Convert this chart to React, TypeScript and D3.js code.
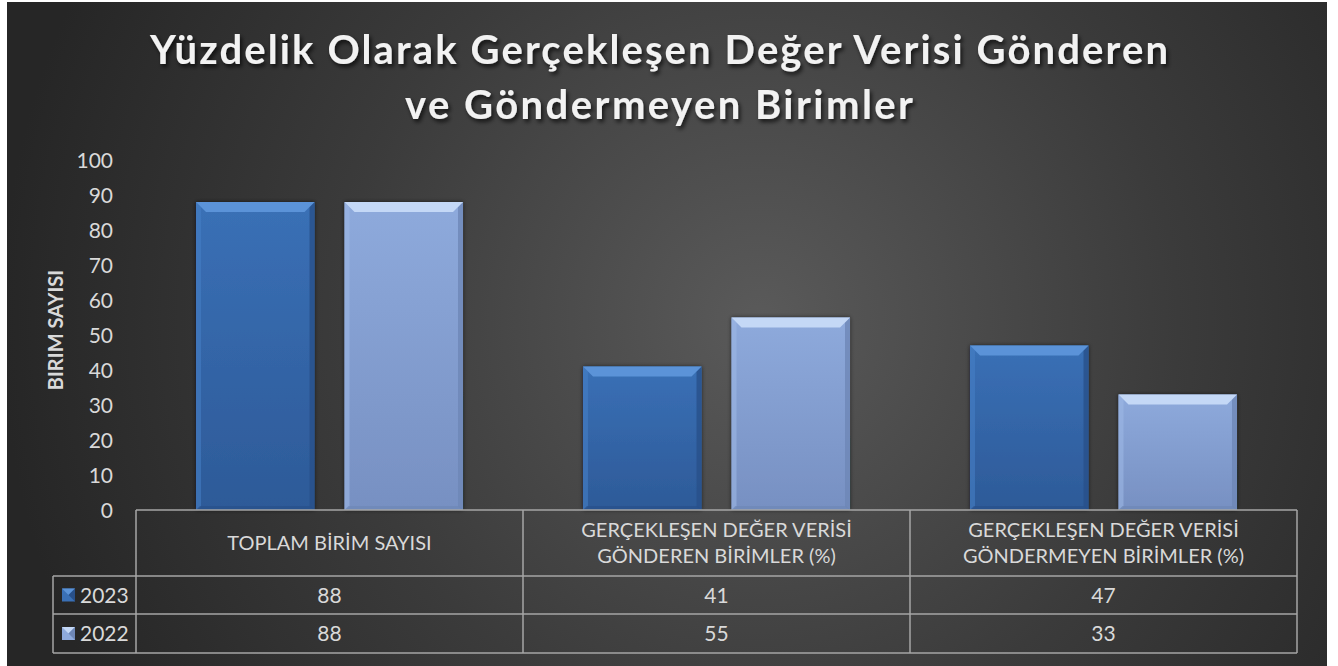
import * as d3 from "d3";
import { useEffect, useRef } from "react";

const categories = [
  ["TOPLAM BİRİM SAYISI"],
  ["GERÇEKLEŞEN DEĞER VERİSİ", "GÖNDEREN BİRİMLER (%)"],
  ["GERÇEKLEŞEN DEĞER VERİSİ", "GÖNDERMEYEN BİRİMLER (%)"]
];
const seriesNames = ["2023", "2022"];
const values2023 = [88, 41, 47];
const values2022 = [88, 55, 33];
const yTicks = [0, 10, 20, 30, 40, 50, 60, 70, 80, 90, 100];
const titleLines = ["Yüzdelik Olarak Gerçekleşen Değer Verisi Gönderen", "ve Göndermeyen Birimler"];
const axisTitle = "BIRIM SAYISI";

const width = 1338;
const height = 666;
const plot = { left: 136, right: 1297, top: 160, bottom: 510 };
const table = { legendLeft: 53, headerBottom: 576, row1Bottom: 614, row2Bottom: 653 };
const font = "Lato, 'Open Sans', sans-serif";

const palette = [
  { main: "#3a70b6", dark: "#2d5a98", top: "#5b93d8", left: "#467fc4", right: "#28508a" },
  { main: "#8eaadc", dark: "#7790c2", top: "#c4d8f6", left: "#9db8e4", right: "#6e87b6" }
];

export default function App() {
  const svgRef = useRef<SVGSVGElement | null>(null);

  useEffect(() => {
    if (!svgRef.current) return;
    const svg = d3.select(svgRef.current);
    svg.selectAll("*").remove();

    const defs = svg.append("defs");
    const bg = defs
      .append("radialGradient")
      .attr("id", "bg")
      .attr("gradientUnits", "userSpaceOnUse")
      .attr("cx", 760)
      .attr("cy", 320)
      .attr("r", 760);
    bg.append("stop").attr("offset", 0).attr("stop-color", "#5a5a5a");
    bg.append("stop").attr("offset", 0.55).attr("stop-color", "#3b3b3b");
    bg.append("stop").attr("offset", 1).attr("stop-color", "#262626");

    palette.forEach((p, i) => {
      const g = defs.append("linearGradient").attr("id", `bar${i}`).attr("x1", 0).attr("x2", 0).attr("y1", 0).attr("y2", 1);
      g.append("stop").attr("offset", 0).attr("stop-color", p.main);
      g.append("stop").attr("offset", 1).attr("stop-color", p.dark);
    });

    const shadow = defs.append("filter").attr("id", "shadow").attr("x", "-10%").attr("y", "-20%").attr("width", "120%").attr("height", "150%");
    shadow
      .append("feDropShadow")
      .attr("dx", 2)
      .attr("dy", 3)
      .attr("stdDeviation", 2)
      .attr("flood-color", "#000")
      .attr("flood-opacity", 0.7);

    const barShadow = defs.append("filter").attr("id", "barShadow").attr("x", "-10%").attr("y", "-10%").attr("width", "120%").attr("height", "120%");
    barShadow
      .append("feDropShadow")
      .attr("dx", 0)
      .attr("dy", 0)
      .attr("stdDeviation", 2)
      .attr("flood-color", "#000")
      .attr("flood-opacity", 0.6);

    svg.append("rect").attr("width", width).attr("height", height).attr("fill", "#ffffff");
    svg.append("rect").attr("x", 7).attr("y", 2).attr("width", 1320).attr("height", 664).attr("fill", "url(#bg)");

    // title
    const title = svg
      .append("g")
      .attr("filter", "url(#shadow)")
      .attr("font-family", font)
      .attr("font-weight", 700)
      .attr("font-size", 40)
      .attr("fill", "#f2f2f2")
      .attr("text-anchor", "middle");
    const titleLengths = [1018, 508];
    titleLines.forEach((line, i) => {
      title
        .append("text")
        .attr("x", 659)
        .attr("y", 64 + i * 55)
        .attr("textLength", titleLengths[i])
        .attr("lengthAdjust", "spacing")
        .text(line);
    });

    const x = d3
      .scaleBand<number>()
      .domain(d3.range(categories.length))
      .range([plot.left, plot.right])
      .padding(0);
    const xs = d3
      .scaleBand<string>()
      .domain(seriesNames)
      .range([0, x.bandwidth()])
      .paddingInner(0.202)
      .paddingOuter(0.404);
    const y = d3.scaleLinear().domain([0, 100]).range([plot.bottom, plot.top]);

    // y ticks
    svg
      .append("g")
      .attr("font-family", font)
      .attr("font-size", 21)
      .attr("fill", "#d9d9d9")
      .attr("text-anchor", "end")
      .selectAll("text")
      .data(yTicks)
      .join("text")
      .attr("x", 113)
      .attr("y", (d) => y(d))
      .attr("dy", "0.36em")
      .text((d) => d);

    svg
      .append("text")
      .attr("transform", `translate(63, ${(plot.top + plot.bottom) / 2 - 5}) rotate(-90)`)
      .attr("font-family", font)
      .attr("font-weight", 700)
      .attr("font-size", 20)
      .attr("fill", "#d9d9d9")
      .attr("text-anchor", "middle")
      .text(axisTitle);

    // bars
    const seriesValues = [values2023, values2022];
    const bevel = 10;
    seriesNames.forEach((name, si) => {
      const p = palette[si];
      seriesValues[si].forEach((v, ci) => {
        const x0 = (x(ci) ?? 0) + (xs(name) ?? 0);
        const x1 = x0 + xs.bandwidth();
        const y0 = y(v);
        const y1 = y(0);
        const b = Math.min(bevel, (y1 - y0) / 2);
        const g = svg.append("g");
        g.append("rect")
          .attr("x", x0)
          .attr("y", y0)
          .attr("width", x1 - x0)
          .attr("height", y1 - y0)
          .attr("fill", `url(#bar${si})`)
          .attr("filter", "url(#barShadow)");
        g.append("polygon")
          .attr("points", `${x0},${y0} ${x0 + 5},${y0 + 5} ${x0 + 5},${y1 - 3} ${x0},${y1}`)
          .attr("fill", p.left)
          .attr("opacity", 0.6);
        g.append("polygon")
          .attr("points", `${x1},${y0} ${x1 - 5},${y0 + 5} ${x1 - 5},${y1 - 3} ${x1},${y1}`)
          .attr("fill", p.right)
          .attr("opacity", 0.8);
        g.append("polygon")
          .attr("points", `${x0},${y0} ${x1},${y0} ${x1 - b},${y0 + b} ${x0 + b},${y0 + b}`)
          .attr("fill", p.top);
        g.append("polygon")
          .attr("points", `${x0},${y1} ${x1},${y1} ${x1 - 4},${y1 - 4} ${x0 + 4},${y1 - 4}`)
          .attr("fill", p.right)
          .attr("opacity", 0.7);
      });
    });

    // data table
    const lines = svg.append("g").attr("stroke", "#a6a6a6").attr("stroke-width", 1.5).attr("fill", "none");
    lines.append("line").attr("x1", plot.left).attr("x2", plot.right).attr("y1", plot.bottom).attr("y2", plot.bottom);
    [table.headerBottom, table.row1Bottom, table.row2Bottom].forEach((yy) => {
      lines.append("line").attr("x1", table.legendLeft).attr("x2", plot.right).attr("y1", yy).attr("y2", yy);
    });
    lines
      .append("line")
      .attr("x1", table.legendLeft)
      .attr("x2", table.legendLeft)
      .attr("y1", table.headerBottom)
      .attr("y2", table.row2Bottom);
    d3.range(categories.length + 1).forEach((i) => {
      const xx = i < categories.length ? x(i) ?? 0 : plot.right;
      lines.append("line").attr("x1", xx).attr("x2", xx).attr("y1", plot.bottom).attr("y2", table.row2Bottom);
    });

    const text = svg
      .append("g")
      .attr("font-family", font)
      .attr("font-size", 20)
      .attr("fill", "#d9d9d9")
      .attr("text-anchor", "middle");
    const headerMid = (plot.bottom + table.headerBottom) / 2;
    categories.forEach((lab, ci) => {
      const cx = (x(ci) ?? 0) + x.bandwidth() / 2;
      lab.forEach((l, li) => {
        text
          .append("text")
          .attr("x", cx)
          .attr("y", headerMid + (li - (lab.length - 1) / 2) * 26)
          .attr("dy", "0.36em")
          .text(l);
      });
    });
    const rowMids = [(table.headerBottom + table.row1Bottom) / 2, (table.row1Bottom + table.row2Bottom) / 2];
    seriesNames.forEach((name, si) => {
      seriesValues[si].forEach((v, ci) => {
        text
          .append("text")
          .attr("x", (x(ci) ?? 0) + x.bandwidth() / 2)
          .attr("y", rowMids[si])
          .attr("dy", "0.36em")
          .attr("font-size", 21)
          .text(v);
      });
      const p = palette[si];
      const kx = 62;
      const ky = rowMids[si] - 6.5;
      const k = 13;
      svg.append("rect").attr("x", kx).attr("y", ky).attr("width", k).attr("height", k).attr("fill", p.main);
      svg
        .append("polygon")
        .attr("points", `${kx},${ky} ${kx + k},${ky} ${kx + k / 2},${ky + k / 2}`)
        .attr("fill", p.top);
      svg
        .append("polygon")
        .attr("points", `${kx + k},${ky} ${kx + k},${ky + k} ${kx + k / 2},${ky + k / 2}`)
        .attr("fill", p.right);
      svg
        .append("text")
        .attr("x", 80)
        .attr("y", rowMids[si])
        .attr("dy", "0.36em")
        .attr("font-family", font)
        .attr("font-size", 21)
        .attr("fill", "#d9d9d9")
        .text(name);
    });
  }, []);

  return (
    <div style={{ position: "fixed", left: 0, top: 0 }}>
      <svg ref={svgRef} width={width} height={height} style={{ display: "block" }} />
    </div>
  );
}
